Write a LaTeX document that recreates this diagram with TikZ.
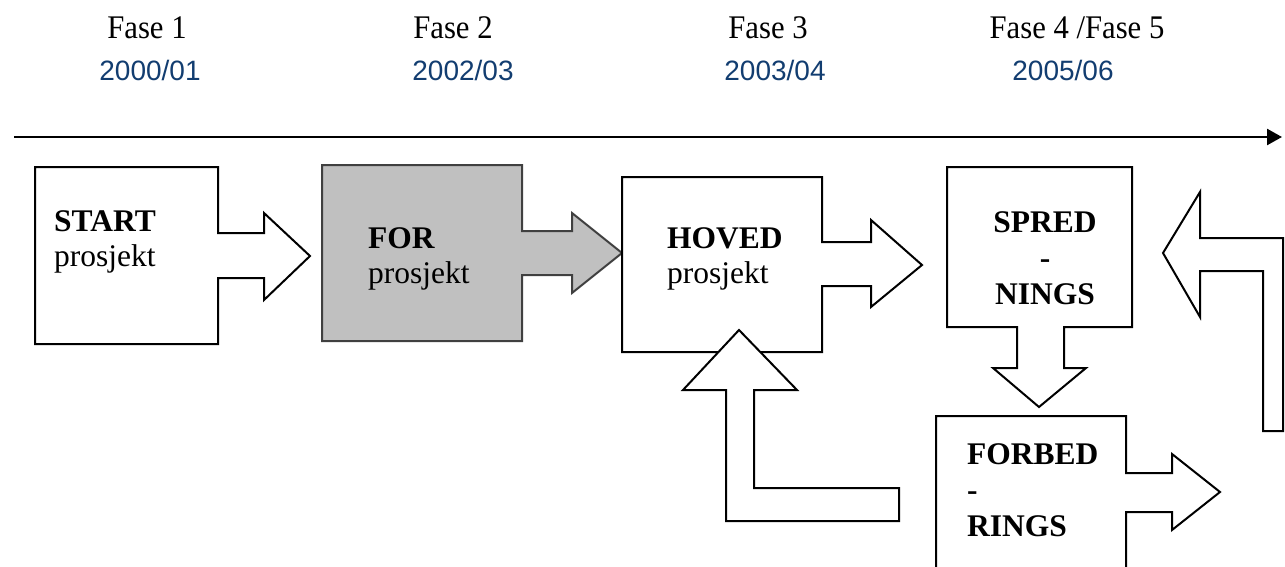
\documentclass[tikz,border=0pt]{standalone}
\usepackage{fontspec}
\setmainfont{Liberation Serif}
\newfontfamily\phasefont[FakeStretch=0.93]{Liberation Serif}
\newfontfamily\datefont{Liberation Sans}
\usetikzlibrary{arrows.meta}

\definecolor{dateblue}{RGB}{18,61,112}
\definecolor{forfill}{RGB}{192,192,192}
\definecolor{foredge}{RGB}{64,64,64}

\tikzset{
  phase/.style={anchor=base, inner sep=0pt, font=\phasefont\fontsize{33}{37}\selectfont},
  year/.style={anchor=base, inner sep=0pt, text=dateblue, font=\datefont\fontsize{28}{32}\selectfont},
  boxtxt/.style={anchor=base west, inner sep=0pt, font=\fontsize{31.5}{36}\selectfont},
  flow/.style={draw=black, line width=2pt, fill=white, line join=miter},
  greyflow/.style={draw=foredge, line width=2pt, fill=forfill, line join=miter},
  timeline/.style={line width=2.5pt, -{Triangle[length=15pt,width=16pt]}},
}

\begin{document}
\begin{tikzpicture}[x=1pt,y=-1pt]
\useasboundingbox (0,0) rectangle (1285,567);

% phase headings and years
\node[phase] (f1)  at (147,39)  {Fase 1};
\node[phase] (f2)  at (453,39)  {Fase 2};
\node[phase] (f3)  at (768,39)  {Fase 3};
\node[phase] (f45) at (1077,39) {Fase 4 /Fase 5};
\node[year] (y1) at (150,81)  {2000/01};
\node[year] (y2) at (463,81)  {2002/03};
\node[year] (y3) at (775,81)  {2003/04};
\node[year] (y4) at (1063,81) {2005/06};

% time axis
\coordinate (tl-start) at (14,137);
\coordinate (tl-end) at (1282,137);
\draw[timeline] (tl-start) -- (tl-end);

% START box with outgoing arrow
\draw[flow] (35,167) -- (218,167) -- (218,233) -- (264,233) -- (264,213) -- (310,256)
  -- (264,300) -- (264,278) -- (218,278) -- (218,344) -- (35,344) -- cycle;

% FOR box (shaded) with outgoing arrow
\draw[greyflow] (322,165) -- (522,165) -- (522,231) -- (572,231) -- (572,213) -- (622,253)
  -- (572,293) -- (572,275) -- (522,275) -- (522,341) -- (322,341) -- cycle;

% HOVED box with outgoing arrow
\draw[flow] (622,177) -- (822,177) -- (822,242) -- (871,242) -- (871,220) -- (922,265)
  -- (871,307) -- (871,286) -- (822,286) -- (822,352) -- (622,352) -- cycle;

% SPREDNINGS box with downward arrow
\draw[flow] (947,167) -- (1132,167) -- (1132,327) -- (1064,327) -- (1064,368) -- (1086,368)
  -- (1039,407) -- (993,368) -- (1017,368) -- (1017,327) -- (947,327) -- cycle;

% FORBEDRINGS box with outgoing arrow, running past the lower edge
\draw[flow] (936,575) -- (936,416) -- (1126,416) -- (1126,473) -- (1172,473) -- (1172,454)
  -- (1220,492) -- (1172,530) -- (1172,512) -- (1126,512) -- (1126,575);

% feedback arrow up into HOVED
\draw[flow] (739,330) -- (797,390) -- (754,390) -- (754,488) -- (899,488) -- (899,521)
  -- (726,521) -- (726,390) -- (683,390) -- cycle;

% feedback arrow back to SPREDNINGS
\draw[flow] (1163,253) -- (1200,192) -- (1200,238) -- (1283,238) -- (1283,431) -- (1263,431)
  -- (1263,271) -- (1200,271) -- (1200,317) -- cycle;

% box texts
\node[boxtxt] (startA) at (54,231) {\textbf{START}};
\node[boxtxt] (startB) at (54,266) {prosjekt};
\node[boxtxt] (forA) at (368,248) {\textbf{FOR}};
\node[boxtxt] (forB) at (368,283) {prosjekt};
\node[boxtxt] (hovA) at (667,248) {\textbf{HOVED}};
\node[boxtxt] (hovB) at (667,283) {prosjekt};
\node[boxtxt, anchor=base] (sprA) at (1045,232) {\textbf{SPRED}};
\node[boxtxt, anchor=base] (sprB) at (1045,268) {\textbf{-}};
\node[boxtxt, anchor=base] (sprC) at (1045,304) {\textbf{NINGS}};
\node[boxtxt] (fbA) at (967,464) {\textbf{FORBED}};
\node[boxtxt] (fbB) at (967,500) {\textbf{-}};
\node[boxtxt] (fbC) at (967,536) {\textbf{RINGS}};
\end{tikzpicture}
\end{document}
